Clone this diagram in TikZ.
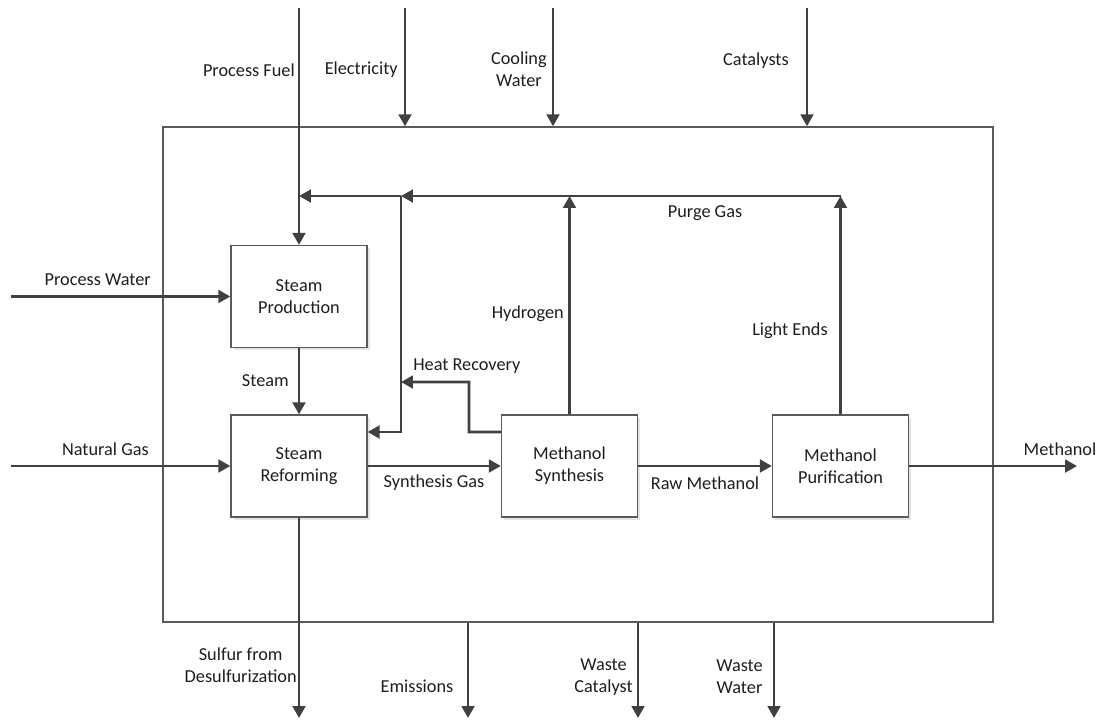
\documentclass[tikz,border=0pt]{standalone}
\usepackage{fontspec}
\setmainfont{Carlito}
\usetikzlibrary{arrows.meta,shadows}
\definecolor{arrowgray}{HTML}{404040}
\definecolor{boxgray}{HTML}{5A5A5A}
\definecolor{textgray}{HTML}{1E1E1E}
\begin{document}
\begin{tikzpicture}[x=0.025cm, y=-0.025cm, >={Triangle[length=8.5pt,width=9pt]},
    font=\fontsize{13}{15.6}\selectfont, text=textgray,
    flow/.style={->, line width=2pt, draw=arrowgray},
    unit/.style={draw=boxgray, line width=0.9pt, fill=white, align=center,
      minimum width=3.4cm, minimum height=2.55cm,
      drop shadow={shadow xshift=0.07cm, shadow yshift=-0.07cm, fill=black!10, opacity=1}},
    lab/.style={inner sep=0pt, align=center}]
  \useasboundingbox (0,0) rectangle (1103,719);

% ---------------- the plant boundary
  \node[draw=boxgray, line width=0.9pt, minimum width=20.75cm, minimum height=12.375cm]
    (plant) at (578,374.5) {};

% ---------------- the four process units
  \node[unit] (prod)   at (299,296.5) {Steam\\Production};
  \node[unit] (reform) at (299,466)   {Steam\\Reforming};
  \node[unit] (synth)  at (569.5,466) {Methanol\\Synthesis};
  \node[unit] (purif)  at (840.5,466) {Methanol\\Purification};

% ---------------- free ends of the streams
  \coordinate (fuelin)  at (299,8);
  \coordinate (elecin)  at (405,8);
  \coordinate (coolin)  at (553,8);
  \coordinate (catin)   at (807,8);
  \coordinate (waterin) at (11,296.5);
  \coordinate (gasin)   at (11,466);
  \coordinate (meout)   at (1077,466);
  \coordinate (sulfout) at (299,718);
  \coordinate (emout)   at (468,718);
  \coordinate (wcout)   at (638,718);
  \coordinate (wwout)   at (774,718);
  \coordinate (tap)     at (401,196);
  \coordinate (hrbend)  at (469,432);
  \coordinate (hr)      at (401,382);

% ---------------- inputs from above
  \draw[flow] (fuelin) -- (prod.north);
  \draw[flow] (elecin) -- (elecin |- plant.north);
  \draw[flow] (coolin) -- (coolin |- plant.north);
  \draw[flow] (catin)  -- (catin |- plant.north);
  \node[lab, anchor=east] at (295,70) {Process Fuel};
  \node[lab, anchor=east] at (398,70) {Electricity};
  \node[lab, anchor=east] at (547,69) {Cooling\\Water};
  \node[lab, anchor=east] at (789,61) {Catalysts};

% ---------------- inputs from the left
  \draw[flow] (waterin) -- (prod.west);
  \draw[flow] (gasin) -- (reform.west);
  \node[lab, anchor=east] at (151,280) {Process Water};
  \node[lab, anchor=east] at (149,449) {Natural Gas};

% ---------------- main line
  \draw[flow] (prod) -- (reform);
  \draw[flow] (reform) -- (synth);
  \draw[flow] (synth) -- (purif);
  \draw[flow] (purif) -- (meout);
  \node[lab, anchor=east] at (289,381) {Steam};
  \node[lab] at (434,483) {Synthesis Gas};
  \node[lab] at (705,483) {Raw Methanol};
  \node[lab] at (1060,449) {Methanol};

% ---------------- purge gas recycle
  \draw[flow] (synth.north) -- (synth.north |- tap);
  \draw[flow] (purif.north) -- (purif.north |- tap);
  \draw[flow] (purif.north |- tap) -- (tap);
  \draw[flow] (tap) -- (fuelin |- tap);
  \draw[flow] (tap) |- ([yshift=0.85cm]reform.east);
  \draw[flow] ([yshift=0.85cm]synth.west) -- (hrbend) |- (hr);
  \node[lab] at (705,213) {Purge Gas};
  \node[lab, anchor=east] at (564,314) {Hydrogen};
  \node[lab, anchor=east] at (828,331) {Light Ends};
  \node[lab, anchor=west] at (413,366) {Heat Recovery};

% ---------------- outputs below
  \draw[flow] (reform.south) -- (sulfout);
  \draw[flow] (emout |- plant.south) -- (emout);
  \draw[flow] (wcout |- plant.south) -- (wcout);
  \draw[flow] (wwout |- plant.south) -- (wwout);
  \node[lab, anchor=east] at (297,665) {Sulfur from\\Desulfurization};
  \node[lab] at (417,686) {Emissions};
  \node[lab, anchor=east] at (633,677) {Waste\\Catalyst};
  \node[lab, anchor=east] at (763,677) {Waste\\Water};
\end{tikzpicture}
\end{document}
